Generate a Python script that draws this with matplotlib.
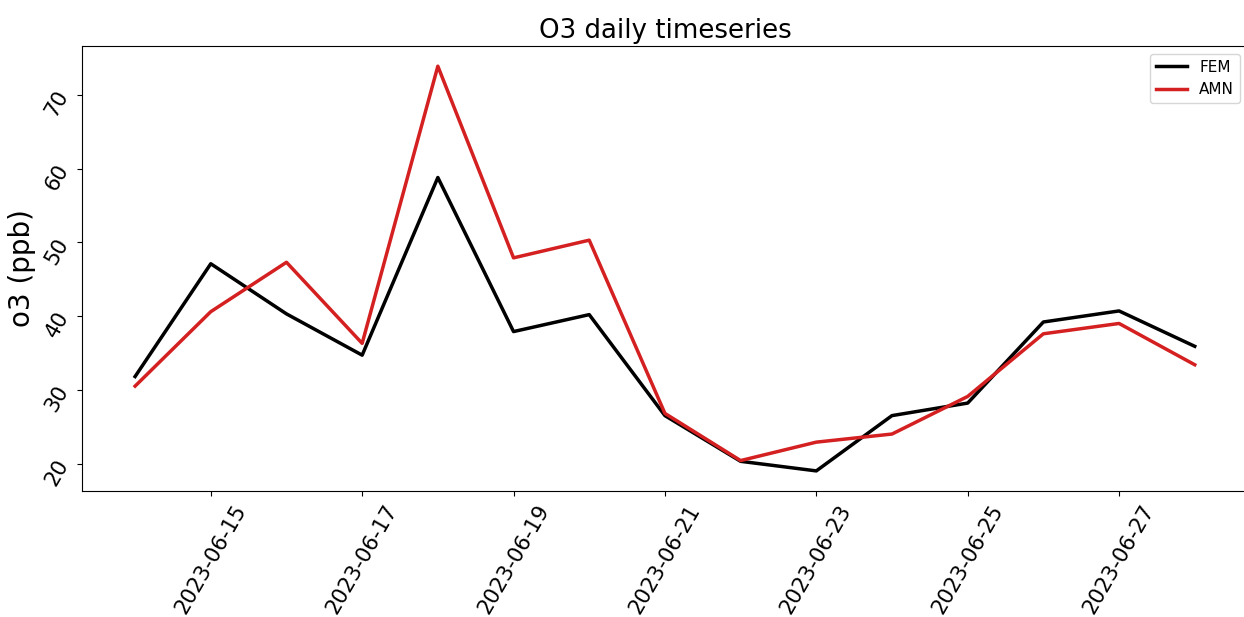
import matplotlib
matplotlib.use("Agg")
import matplotlib.pyplot as plt
import matplotlib.dates as mdates
import numpy as np
import pandas as pd

dates = pd.date_range("2023-06-14", "2023-06-28", freq="D")
fem = [31.8, 47.1, 40.3, 34.7, 58.8, 37.9, 40.2, 26.5, 20.3, 19.0, 26.5, 28.2, 39.2, 40.7, 35.9]
amn = [30.5, 40.6, 47.3, 36.3, 73.9, 47.9, 50.3, 26.8, 20.4, 22.9, 24.0, 29.1, 37.6, 39.0, 33.4]

fig, ax = plt.subplots(figsize=(12.44, 6.17), dpi=100)
# right spine sits just past the image edge in the reference
fig.subplots_adjust(left=0.066, right=1.003, top=0.9255, bottom=0.204)

ax.plot(dates, fem, color="black", lw=2.5, label="FEM")
ax.plot(dates, amn, color="#d42020", lw=2.5, label="AMN")

ax.xaxis.set_major_locator(mdates.DayLocator(interval=2))
ax.xaxis.set_major_formatter(mdates.DateFormatter("%Y-%m-%d"))
ax.tick_params(axis="x", labelsize=15.2, rotation=60)
ax.tick_params(axis="y", labelsize=15.2, rotation=60)

ax.set_ylabel("o3 (ppb)", fontsize=20)
ax.set_title("O3 daily timeseries", fontsize=18.7)
ax.legend(fontsize=11, loc="upper right")

fig.savefig("out.png", dpi=100)
